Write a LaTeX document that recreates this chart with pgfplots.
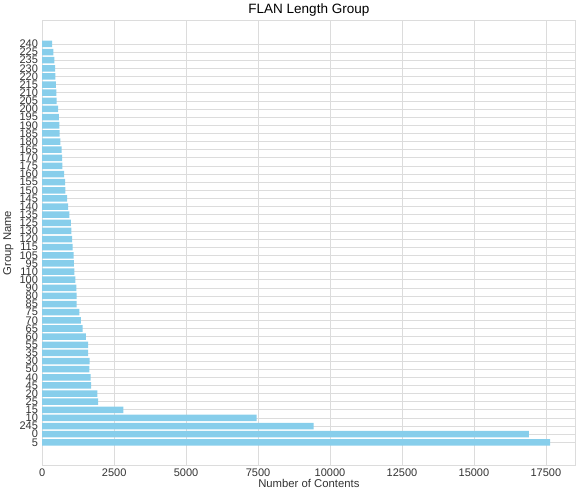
\documentclass[border=0pt]{standalone}
\usepackage{pgfplots}
\pgfplotsset{compat=1.18}
\usepackage{pgfplotstable}
\usepackage{fontspec}
\setmainfont{Liberation Sans}
\definecolor{skyblue}{HTML}{87CEEB}
\definecolor{gridgray}{HTML}{DCDCDC}

% bottom to top: group, count
\pgfplotstableread{
idx grp count
0  5    17650
1  0    16910
2  245  9430
3  10   7450
4  15   2820
5  25   1945
6  20   1921
7  45   1703
8  40   1680
9  50   1642
10 30   1645
11 35   1595
12 55   1600
13 60   1519
14 65   1403
15 70   1346
16 75   1289
17 85   1200
18 80   1196
19 90   1185
20 100  1151
21 110  1116
22 95   1105
23 105  1093
24 115  1058
25 120  1036
26 130  1013
27 125  1001
28 135  944
29 140  898
30 145  863
31 150  806
32 155  794
33 160  760
34 175  700
35 170  690
36 165  679
37 180  633
38 185  610
39 190  598
40 195  576
41 200  553
42 205  498
43 210  495
44 215  472
45 220  460
46 230  449
47 235  426
48 225  391
49 240  345
}\flandata

\begin{document}
\begin{tikzpicture}
\begin{axis}[
    xbar,
    scale only axis,
    width=533pt, height=445pt,
    bar width=0.8,
    xmin=0, xmax=18532,
    ymin=-2.89, ymax=51.89,
    xtick={0,2500,...,17500},
    ytick={0,...,49},
    yticklabels from table={\flandata}{grp},
    scaled x ticks=false,
    major tick length=0pt,
    /pgf/number format/1000 sep={},
    /pgf/number format/assume math mode=true,
    tick label style={font=\fontsize{11}{11}\selectfont, text=black!80},
    yticklabel style={inner sep=4pt},
    xticklabel style={inner sep=2pt, yshift=-0.5pt},
    grid=major, grid style={gridgray, line width=0.6pt},
    axis line style={gridgray, line width=0.8pt},
    title={FLAN Length Group},
    title style={font=\fontsize{13.5}{13.5}\selectfont, yshift=-5pt},
    xlabel={Number of Contents},
    ylabel={Group Name},
    label style={font=\fontsize{11.3}{11.3}\selectfont, text=black!80},
    xlabel style={yshift=3pt},
    ylabel style={yshift=-1.5pt},
    ]
    \addplot [fill=skyblue, draw=none] table [x=count, y=idx] {\flandata};
\end{axis}
\end{tikzpicture}
\end{document}
